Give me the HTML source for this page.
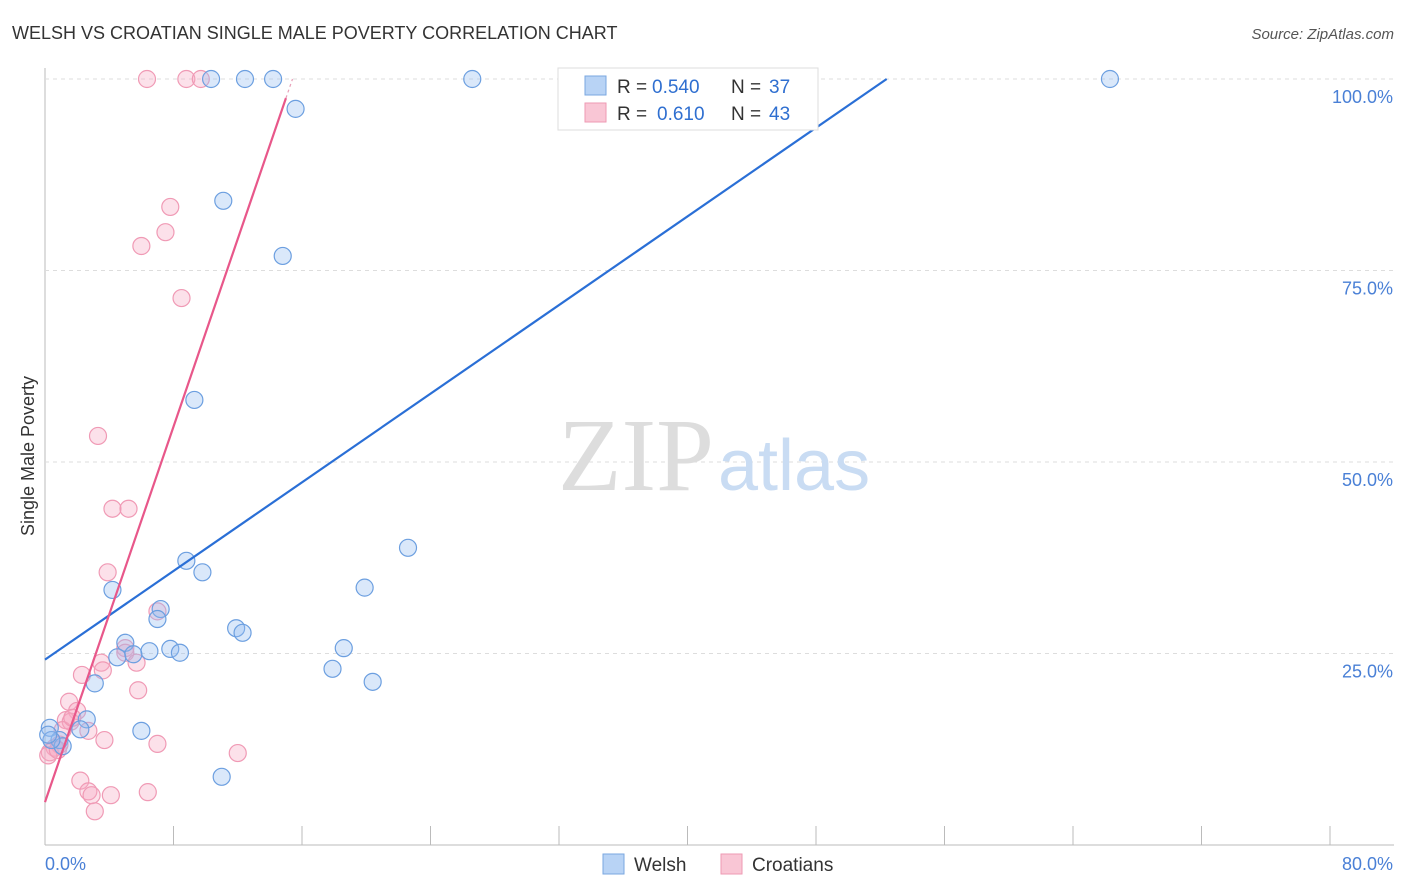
<!DOCTYPE html>
<html><head><meta charset="utf-8"><style>
body{margin:0;background:#fff;font-family:"Liberation Sans",sans-serif;}
svg{display:block}
</style></head><body>
<svg id="chart" width="1406" height="892">
<text x="12" y="39" font-size="18" fill="#333">WELSH VS CROATIAN SINGLE MALE POVERTY CORRELATION CHART</text>
<text x="1394" y="39" font-size="15" fill="#555" font-style="italic" text-anchor="end">Source: ZipAtlas.com</text>
<text x="34" y="456" font-size="18" fill="#333" text-anchor="middle" transform="rotate(-90 34 456)">Single Male Poverty</text>
<g id="grid"></g>
<text x="714" y="490" font-size="104" font-family="Liberation Serif" fill="#ddd" text-anchor="end">ZIP</text>
<text x="718" y="490" font-size="72" fill="#c9dcf3">atlas</text>
<g id="pts"></g>
<g id="lines"></g>
<g>
<rect x="558" y="68" width="260" height="62" fill="#fff" stroke="#ddd"/>
<rect x="585" y="76" width="21" height="19" fill="#b8d3f5" stroke="#7aa7e0"/>
<rect x="585" y="103" width="21" height="19" fill="#f9c6d5" stroke="#ee9ab3"/>
<text x="617" y="93" font-size="19" fill="#333">R =</text>
<text x="652" y="93" font-size="19" fill="#2f6fd0">0.540</text>
<text x="731" y="93" font-size="19" fill="#333">N =</text>
<text x="769" y="93" font-size="19" fill="#2f6fd0">37</text>
<text x="617" y="120" font-size="19" fill="#333">R =</text>
<text x="657" y="120" font-size="19" fill="#2f6fd0">0.610</text>
<text x="731" y="120" font-size="19" fill="#333">N =</text>
<text x="769" y="120" font-size="19" fill="#2f6fd0">43</text>
</g>
<g>
<rect x="603" y="854" width="21" height="20" fill="#b8d3f5" stroke="#7aa7e0"/>
<text x="634" y="871" font-size="19" fill="#333">Welsh</text>
<rect x="721" y="854" width="21" height="20" fill="#f9c6d5" stroke="#ee9ab3"/>
<text x="752" y="871" font-size="19" fill="#333">Croatians</text>
</g>
</svg>
<script>
const welshX=[10.34,12.45,14.2,26.6,66.3,15.6,11.1,14.8,9.3,8.8,9.8,22.6,4.2,19.9,7.2,7.0,11.9,12.3,5.0,6.5,7.8,8.4,4.5,5.5,18.6,3.1,17.9,20.4,2.6,2.2,6.0,11.0,0.3,0.9,1.1,0.4,0.2];
const welshY=[100,100,100,100,100,96.1,84.1,76.9,58.1,37.1,35.6,38.8,33.3,33.6,30.8,29.5,28.3,27.7,26.4,25.3,25.6,25.1,24.5,24.9,25.7,21.1,23.0,21.3,16.4,15.1,14.9,8.9,15.3,13.7,12.9,13.7,14.4];
const croX=[6.35,8.8,9.7,7.8,7.5,6.0,8.5,3.3,4.2,5.2,3.9,7.0,5.0,5.0,5.7,3.5,3.6,5.8,2.3,1.5,2.0,1.3,1.6,2.7,3.7,7.0,12.0,2.2,2.7,2.9,4.1,6.4,3.1,0.6,0.3,0.9,1.1,1.7,0.2,0.8];
const croY=[100,100,100,83.3,80.0,78.2,71.4,53.4,43.9,43.9,35.6,30.5,25.7,25.1,23.8,23.8,22.8,20.2,22.2,18.7,17.5,16.3,16.1,14.9,13.7,13.2,12.0,8.4,7.0,6.5,6.5,6.9,4.4,12.7,12.1,13.1,15.0,16.6,11.7,12.4];
const welshLine=[[0,24.2],[52.4,100]];
const croLine=[[0,5.6],[15.0,97.5]];
const yTicks=[25,50,75,100];
const xTickVals=[0,8,16,24,32,40,48,56,64,72,80];
const sx=v=>45+v*1285/80, sy=v=>845-v*7.66;
const NS='http://www.w3.org/2000/svg';
const mk=(t,a,p)=>{const e=document.createElementNS(NS,t);for(const k in a)e.setAttribute(k,a[k]);p.appendChild(e);return e;};
const g=document.getElementById('grid');
let ax=mk('line',{x1:45,y1:68,x2:45,y2:845,stroke:'#bbb'},g);

let bx=mk('line',{x1:45,y1:845,x2:1394,y2:845,stroke:'#bbb'},g);

yTicks.forEach(t=>{
 const l=mk('line',{x1:45,y1:sy(t),x2:1394,y2:sy(t),stroke:'#ddd','stroke-dasharray':'4,4'},g);
 
 const tx=mk('text',{x:1393,y:sy(t)+24,'font-size':18,fill:'#4a80d6','text-anchor':'end'},g);
 tx.textContent=t.toFixed(1)+'%';
 
});
xTickVals.forEach(t=>{
 const l=mk('line',{x1:sx(t),y1:845,x2:sx(t),y2:826,stroke:'#bbb'},g);
 
});
[[0,'start',45],[80,'end',1393]].forEach(([v,a,x])=>{
 const tx=mk('text',{x:x,y:870,'font-size':18,fill:'#4a80d6','text-anchor':a},g);
 tx.textContent=v.toFixed(1)+'%';
 
});
const pg=document.getElementById('pts');
croX.forEach((x,i)=>{
 const c=mk('circle',{cx:sx(x),cy:sy(croY[i]),r:8.5,fill:'rgba(246,170,195,0.35)',stroke:'#f09ab5','stroke-width':1.2},pg);
 
});
welshX.forEach((x,i)=>{
 const c=mk('circle',{cx:sx(x),cy:sy(welshY[i]),r:8.5,fill:'rgba(150,190,240,0.35)',stroke:'#6c9fe0','stroke-width':1.2},pg);
 
});
const lg=document.getElementById('lines');
let wl=mk('line',{x1:sx(welshLine[0][0]),y1:sy(welshLine[0][1]),x2:sx(welshLine[1][0]),y2:sy(welshLine[1][1]),stroke:'#2a6fd6','stroke-width':2.2},lg);

let cl=mk('line',{x1:sx(croLine[0][0]),y1:sy(croLine[0][1]),x2:sx(croLine[1][0]),y2:sy(croLine[1][1]),stroke:'#e8578a','stroke-width':2.2},lg);

const slope=(croLine[1][1]-croLine[0][1])/(croLine[1][0]-croLine[0][0]);
const xe=croLine[1][0]+(100-croLine[1][1])/slope;
let ce=mk('line',{x1:sx(croLine[1][0]),y1:sy(croLine[1][1]),x2:sx(xe),y2:sy(100),stroke:'#e8a0b8','stroke-width':1.2,'stroke-dasharray':'3,3'},lg);

</script>
</body></html>
